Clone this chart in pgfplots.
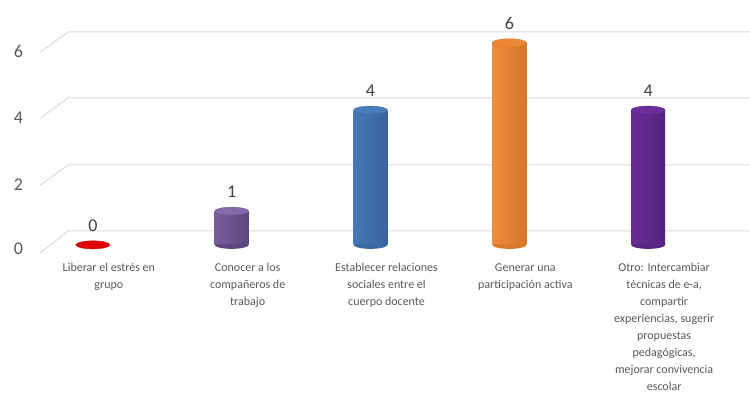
\documentclass[border=0pt]{standalone}
\usepackage{fontspec}
\setmainfont{Carlito}
\usepackage{pgfplots}
\pgfplotsset{compat=1.18}
\definecolor{gridc}{HTML}{D9D9D9}
\definecolor{txt}{HTML}{595959}
\definecolor{lab}{HTML}{404040}
\pgfdeclareplotmark{cap}{\pgfpathellipse{\pgfpointorigin}{\pgfpoint{17pt}{0pt}}{\pgfpoint{0pt}{4pt}}\pgfusepathqfillstroke}
\pgfdeclareplotmark{bot}{\pgfpathmoveto{\pgfpoint{-17pt}{0.5pt}}\pgfpathlineto{\pgfpoint{-17pt}{0pt}}\pgfpatharc{180}{360}{17pt and 4pt}\pgfpathlineto{\pgfpoint{17pt}{0.5pt}}\pgfpathclose\pgfusepathqfill}
\begin{document}
\begin{tikzpicture}
\begin{axis}[
 scale only axis, width=719.5pt, height=257.8pt,
 xmin=-0.45, xmax=4.73, ymin=-0.4, ymax=7.25,
 clip=false,
 axis line style={draw=none}, tick style={draw=none},
 xtick={0,1,2,3,4},
 xticklabels={{Liberar el estrés en\\grupo},{Conocer a los\\compañeros de\\trabajo},{Establecer relaciones\\sociales entre el\\cuerpo docente},{Generar una\\participación activa},{Otro: Intercambiar\\técnicas de e-a,\\compartir\\experiencias, sugerir\\propuestas\\pedagógicas,\\mejorar convivencia\\escolar}},
 xticklabel style={align=center, font=\fontsize{12}{16.9}\selectfont, text=txt, anchor=north, inner sep=0pt, xshift=16pt, yshift=-5pt},
 ytick={-0.1,1.78,3.77,5.74}, yticklabels={0,2,4,6},
 yticklabel style={font=\fontsize{18}{20}\selectfont, text=txt, xshift=-4pt},
 /pgf/number format/assume math mode=true,
 nodes near coords style={anchor=south, yshift=13pt, inner sep=0pt, font=\fontsize{18}{20}\selectfont, text=lab},
]
% background grid (perspective)
\path (axis cs:-0.669,-4.481) rectangle (axis cs:4.73,7.27);
\draw[gridc, line width=1pt] (axis cs:-0.377,-0.237) -- (axis cs:-0.178,0.415) -- (axis cs:4.73,0.415);
\draw[gridc, line width=1pt] (axis cs:-0.377,1.78) -- (axis cs:-0.178,2.374) -- (axis cs:4.73,2.374);
\draw[gridc, line width=1pt] (axis cs:-0.377,3.77) -- (axis cs:-0.178,4.362) -- (axis cs:4.73,4.362);
\draw[gridc, line width=1pt] (axis cs:-0.377,5.74) -- (axis cs:-0.178,6.32) -- (axis cs:4.73,6.32);
% 0: red
\addplot[only marks, mark=cap, mark options={fill={rgb,255:red,225;green,0;blue,0}, draw={rgb,255:red,200;green,0;blue,0}}, nodes near coords] coordinates {(0,0)};
% 1: light purple
\addplot[only marks, mark=bot, mark options={fill={rgb,255:red,94;green,71;blue,128}}] coordinates {(1,0)};
\addplot[ybar, bar width=34pt, bar shift=0pt, draw=none, left color={rgb,255:red,120;green,94;blue,155}, middle color={rgb,255:red,145;green,118;blue,180}, right color={rgb,255:red,92;green,70;blue,125}] coordinates {(1,1)};
\addplot[only marks, mark=cap, mark options={fill={rgb,255:red,132;green,106;blue,170}, draw={rgb,255:red,110;green,86;blue,145}}, nodes near coords] coordinates {(1,1)};
% 2: blue
\addplot[only marks, mark=bot, mark options={fill={rgb,255:red,58;green,106;blue,162}}] coordinates {(2,0)};
\addplot[ybar, bar width=34pt, bar shift=0pt, draw=none, left color={rgb,255:red,70;green,121;blue,184}, middle color={rgb,255:red,98;green,149;blue,211}, right color={rgb,255:red,56;green,100;blue,155}] coordinates {(2,4)};
\addplot[only marks, mark=cap, mark options={fill={rgb,255:red,72;green,124;blue,186}, draw={rgb,255:red,60;green,105;blue,160}}, nodes near coords] coordinates {(2,4)};
% 3: orange
\addplot[only marks, mark=bot, mark options={fill={rgb,255:red,217;green,122;blue,42}}] coordinates {(3,0)};
\addplot[ybar, bar width=34pt, bar shift=0pt, draw=none, left color={rgb,255:red,240;green,140;blue,60}, middle color={rgb,255:red,255;green,165;blue,82}, right color={rgb,255:red,210;green,118;blue,40}] coordinates {(3,6)};
\addplot[only marks, mark=cap, mark options={fill={rgb,255:red,236;green,136;blue,55}, draw={rgb,255:red,215;green,118;blue,40}}, nodes near coords] coordinates {(3,6)};
% 4: dark purple
\addplot[only marks, mark=bot, mark options={fill={rgb,255:red,88;green,36;blue,130}}] coordinates {(4,0)};
\addplot[ybar, bar width=34pt, bar shift=0pt, draw=none, left color={rgb,255:red,104;green,44;blue,150}, middle color={rgb,255:red,125;green,60;blue,178}, right color={rgb,255:red,84;green,34;blue,125}] coordinates {(4,4)};
\addplot[only marks, mark=cap, mark options={fill={rgb,255:red,108;green,46;blue,156}, draw={rgb,255:red,90;green,36;blue,135}}, nodes near coords] coordinates {(4,4)};
\end{axis}
\end{tikzpicture}
\end{document}
